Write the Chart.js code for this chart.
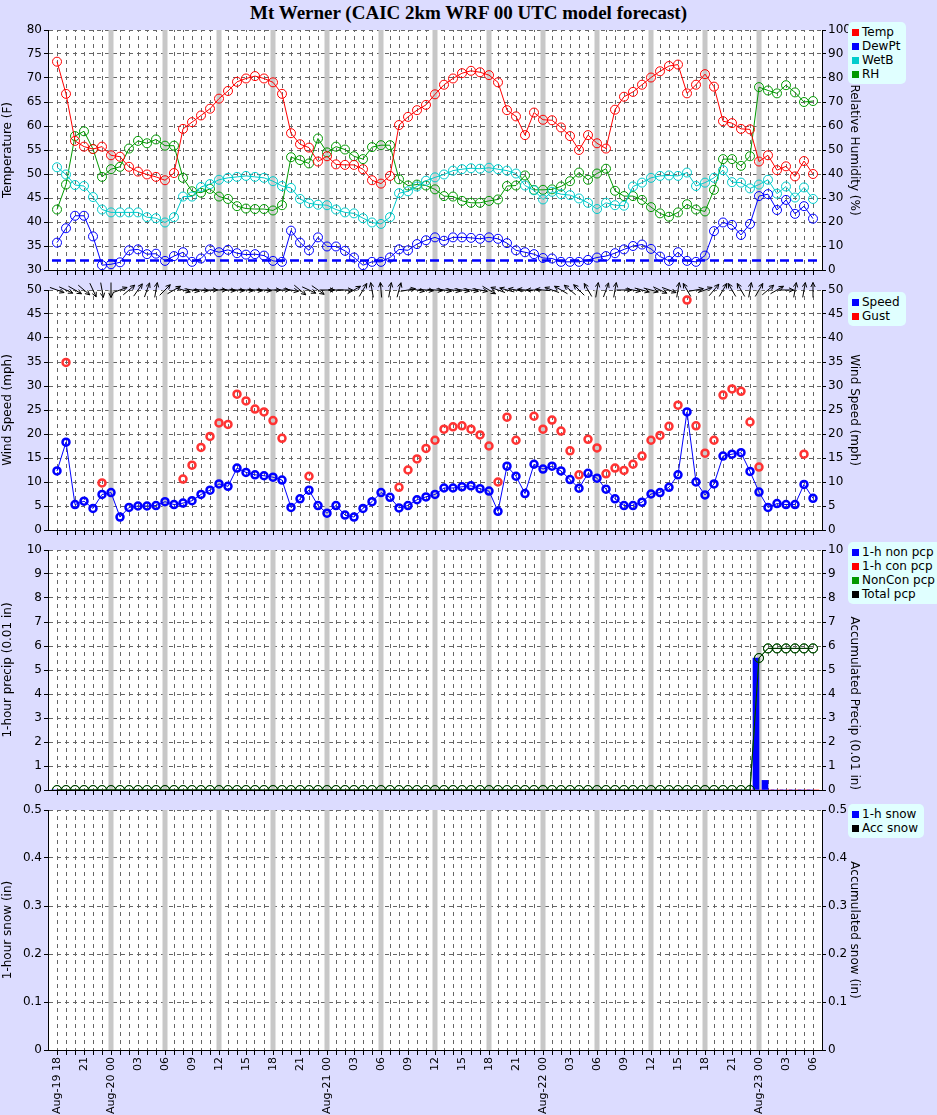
<!DOCTYPE html>
<html><head><meta charset="utf-8">
<script src="https://cdn.jsdelivr.net/npm/chart.js@4"></script>
<style>
body{margin:0;background:#dcdcff;width:937px;height:1115px;position:relative;overflow:hidden;font-family:"DejaVu Sans",sans-serif}
canvas{position:absolute;left:0}
#title{position:absolute;top:2px;left:0;width:937px;text-align:center;font:bold 19px "Liberation Serif",serif}
.leg{position:absolute;left:848px;background:#e0ffff;border-radius:5px;padding:3px 6px 3px 4px;font-size:12px;line-height:14px;white-space:nowrap}
.leg i{display:inline-block;width:7px;height:7px;margin-right:3px}
</style></head><body>
<div id="title">Mt Werner (CAIC 2km WRF 00 UTC model forecast)</div>
<canvas id="c1" width="937" height="280" style="top:0"></canvas>
<canvas id="c2" width="937" height="270" style="top:270px"></canvas>
<canvas id="c3" width="937" height="260" style="top:540px"></canvas>
<canvas id="c4" width="937" height="315" style="top:800px"></canvas>
<div class="leg" style="top:22px"><i style="background:#f00"></i>Temp<br><i style="background:#00f"></i>DewPt<br><i style="background:#0cc"></i>WetB<br><i style="background:#090"></i>RH</div>
<div class="leg" style="top:292px"><i style="background:#00f"></i>Speed<br><i style="background:#f00"></i>Gust</div>
<div class="leg" style="top:542px"><i style="background:#00f"></i>1-h non pcp<br><i style="background:#f00"></i>1-h con pcp<br><i style="background:#090"></i>NonCon pcp<br><i style="background:#000"></i>Total pcp</div>
<div class="leg" style="top:804px"><i style="background:#00f"></i>1-h snow<br><i style="background:#000"></i>Acc snow</div>
<script>
const startDay = 19, startHour = 18, nHours = 85;
const temp = [73.4,66.7,56.9,55.7,55.2,55.7,53.9,53.6,51.5,50.5,49.9,49.4,48.7,50.2,59.4,60.8,62.2,63.6,65.7,67.3,69.2,69.9,70.4,69.9,69.1,66.7,58.5,56.2,55.5,52.6,53.7,52.0,51.9,51.9,51.0,48.7,48.0,49.6,60.2,61.9,63.3,64.4,66.6,
68.6,69.9,71.0,71.5,71.2,70.6,69.1,63.3,62.0,58.1,62.8,61.3,61.2,59.7,57.9,55.0,58.1,56.4,55.3,63.4,66.1,67.1,68.6,70.1,71.4,72.5,72.8,66.8,68.6,70.8,68.2,61.0,60.6,59.4,59.3,52.6,53.9,50.8,51.6,49.5,52.7,50.0];
const dewpt = [35.7,38.7,41.3,41.3,37.0,31.0,31.2,31.6,34.1,34.3,33.3,33.4,31.9,32.9,33.7,31.7,32.4,34.3,33.7,34.2,33.5,33.2,33.3,33.0,31.9,31.7,38.2,35.7,34.1,36.8,34.9,34.9,34.0,32.6,31.0,31.7,31.7,32.6,34.3,34.1,35.4,36.2,36.8,
36.1,36.8,36.8,36.7,36.5,36.8,36.5,35.6,34.1,33.7,33.3,32.5,32.4,31.7,31.7,31.7,32.1,32.6,32.9,33.5,34.3,35.0,35.3,34.4,32.8,31.9,33.7,31.9,31.7,33.0,38.1,39.9,39.4,37.3,39.6,45.4,45.8,42.5,44.6,41.7,43.3,40.7];
const wetb = [51.4,49.9,47.7,47.5,45.2,42.6,42.0,42.0,42.0,42.0,41.0,40.8,39.9,41.0,45.3,45.3,47.3,47.9,48.8,49.2,49.4,49.6,49.4,49.2,48.5,47.5,47.1,44.8,43.9,43.6,43.5,42.6,42.0,41.8,40.8,39.9,39.6,41.0,46.0,46.4,47.4,48.6,49.3,
49.9,50.7,51.0,51.2,51.1,51.3,51.0,50.7,50.1,47.6,46.6,44.7,46.3,45.8,45.6,44.9,44.0,42.7,44.0,43.5,43.4,47.4,48.2,49.2,49.6,49.7,49.6,50.3,47.5,48.2,49.2,50.8,48.3,48.2,47.0,47.8,48.8,45.9,47.4,45.1,47.2,44.8];
const rh = [25.2,35.6,55.8,57.8,50.4,38.8,42.0,43.0,50.6,53.8,52.8,54.4,51.8,51.8,38.4,32.8,32.2,33.8,30.6,29.6,26.6,25.6,25.4,25.4,24.8,27.0,47.0,45.8,44.4,54.8,49.0,51.4,50.2,47.4,46.2,51.2,52.0,52.0,37.8,35.2,35.6,35.2,33.6,
30.8,30.6,28.8,28.0,28.0,28.8,29.4,35.0,35.2,39.4,33.4,33.4,33.6,34.8,37.0,40.6,37.6,40.2,42.2,33.0,30.8,30.8,29.2,26.2,23.6,22.2,24.0,27.4,25.2,24.4,33.4,46.2,46.2,43.4,47.4,76.2,74.8,73.6,77.0,74.0,70.0,70.4];
const freezing = 32;
const speed = [12.3,18.3,5.3,6.0,4.5,7.4,7.8,2.7,4.7,5.0,5.0,5.1,5.9,5.3,5.6,6.1,7.4,8.3,9.6,9.1,12.9,12.0,11.5,11.3,11.0,10.4,4.7,6.5,8.3,5.1,3.5,5.1,3.1,2.7,4.5,5.9,7.8,6.8,4.6,5.1,6.3,6.9,7.4,
8.75,8.75,9.0,9.2,8.6,8.1,3.9,13.3,11.2,7.6,13.7,12.7,13.3,12.3,10.5,8.7,11.8,10.8,8.5,6.5,5.1,5.1,5.8,7.5,7.8,8.9,11.5,24.6,10.0,7.3,9.6,15.4,15.8,16.1,12.2,7.9,4.7,5.5,5.3,5.3,9.5,6.6];
const gust = [null,34.9,null,null,null,9.8,null,null,null,null,null,null,null,null,10.6,13.5,17.2,19.5,22.3,22.0,28.3,26.9,25.2,24.6,22.8,19.1,null,null,11.2,null,null,null,null,null,null,null,null,null,8.9,12.5,14.8,17.0,18.7,
21.0,21.5,21.7,21.0,19.8,17.5,10.0,23.5,18.7,null,23.7,21.0,22.9,20.6,16.5,11.5,18.9,17.1,11.7,12.9,12.4,13.7,15.4,18.7,19.7,21.6,26.0,47.9,21.7,16.0,18.7,28.1,29.4,28.9,22.5,13.1,null,null,null,null,15.8,null];
const windDir = [-20,-25,-30,-40,-65,-80,-90,20,40,55,70,80,45,30,-15,-10,-5,0,0,-5,-5,-5,-5,-5,0,0,-10,-40,-25,-35,0,180,0,30,60,100,95,80,75,10,-10,-5,-5,
-10,-10,-10,-10,-10,-30,160,165,170,175,180,175,160,150,140,135,120,80,70,80,0,-10,-15,-15,-25,-20,80,120,10,20,50,60,120,120,80,60,40,30,0,80,80,90];
const precip1hNon = Array(85).fill(0); precip1hNon[78]=5.5; precip1hNon[79]=0.4;
const precip1hCon = Array(85).fill(0);
const accNonCon = [...Array(78).fill(0),5.5,5.9,5.9,5.9,5.9,5.9,5.9];
const accTotal = [...Array(78).fill(0),5.5,5.9,5.9,5.9,5.9,5.9,5.9];
const snow1h = [], accSnow = [];

const hours = Array.from({length:nHours},(_,i)=>i);
const pts = a => a.map((v,i)=>({x:i,y:v}));
function label(i){
  const h=(startHour+i)%24, d=startDay+Math.floor((startHour+i)/24);
  if(i%3) return '';
  const hs=String(h).padStart(2,'0');
  if(i===0||h===0) return 'Aug-'+d+' '+hs;
  return hs;
}
const F='"DejaVu Sans", sans-serif';
Chart.defaults.font.family=F; Chart.defaults.font.size=12; Chart.defaults.color='#000';
Chart.defaults.animation=false;
const sixLines={id:'six',beforeDatasetsDraw(c){const {ctx,chartArea:a}=c;const x=c.scales.x;ctx.save();ctx.fillStyle='#c8c8c8';
  for(let i=1;i<nHours-1;i++){if((startHour+i)%6===0){const p=x.getPixelForValue(i);ctx.fillRect(p-2.5,a.top,5,a.bottom-a.top);}}ctx.restore();}};
const whiteBg={id:'wbg',beforeDraw(c){const {ctx,chartArea:a}=c;ctx.save();ctx.fillStyle='#fff';ctx.fillRect(a.left,a.top,a.right-a.left,a.bottom-a.top);ctx.restore();}};
Chart.register(whiteBg);
function xAxis(bottom){return {type:'linear',min:-1,max:85,offset:false,
  afterFit:s=>{s.height=bottom?65:10;},
  afterBuildTicks:s=>{s.ticks=hours.map(v=>({value:v}));},
  grid:{color:'#666',lineWidth:1,tickLength:5,tickColor:'#000',drawOnChartArea:true,offset:false},
  border:{color:'#000',dash:[4,4],dashOffset:2},
  ticks:{display:bottom,autoSkip:false,maxRotation:90,minRotation:90,padding:2,callback:(v)=>label(v),font:{size:11}}}}
function yAxis(pos,min,max,step,title,grid,align){return {position:pos,min,max,
  afterFit:s=>{s.width=pos==='left'?48:40;},
  ticks:{stepSize:step,padding:2,callback:v=>String(+v.toFixed(2))},
  grid:{display:true,drawOnChartArea:grid,color:'#666',tickLength:4,tickColor:'#000'},
  border:{color:'#000',dash:[4,4]},
  title:{display:true,text:title,padding:1,align:align||'center',font:{size:12}}}}
function opts(pt,bottom,left,right){return {responsive:false,animation:false,
  layout:{padding:{top:pt,right:75,left:0,bottom:0}},
  plugins:{legend:{display:false},tooltip:{enabled:false}},
  scales:{x:xAxis(bottom),y:left,y1:right}}}
function line(data,color,axis,extra){return Object.assign({type:'line',data:pts(data),borderColor:color,backgroundColor:'rgba(0,0,0,0)',borderWidth:1,pointRadius:4.5,pointBorderWidth:1,pointBackgroundColor:'rgba(0,0,0,0)',pointBorderColor:color,yAxisID:axis,spanGaps:false},extra||{})}

// Panel 1
const o1=opts(30,false,yAxis('left',30,80,5,'Temperature (F)',true),yAxis('right',0,100,10,'Relative Humidity (%)',false));
const freezePlugin={id:'fz',afterDatasetsDraw(c){const {ctx,chartArea:a}=c;const y=c.scales.y.getPixelForValue(freezing);ctx.save();ctx.strokeStyle='#0000ff';ctx.lineWidth=2.5;ctx.setLineDash([9,5]);ctx.beginPath();ctx.moveTo(a.left+4,y);ctx.lineTo(a.right,y);ctx.stroke();ctx.restore();}};
new Chart(document.getElementById('c1'),{type:'line',data:{datasets:[
  line(temp,'#ff0000','y'),line(dewpt,'#0000ff','y'),line(wetb,'#00cccc','y'),line(rh,'#009900','y1')]},options:o1,plugins:[sixLines,freezePlugin]});

// Panel 2
const o2=opts(20,false,yAxis('left',0,50,5,'Wind Speed (mph)',true),yAxis('right',0,50,5,'Wind Speed (mph)',false));
const arrows={id:'arr',afterDatasetsDraw(c){const {ctx,chartArea:a}=c;const x=c.scales.x;ctx.save();ctx.strokeStyle='#000';ctx.lineWidth=1;
  windDir.forEach((d,i)=>{const cx=x.getPixelForValue(i),cy=a.top;const r=d*Math.PI/180,L=15;const dx=Math.cos(r),dy=-Math.sin(r);
   const x0=cx-dx*L/2,y0=cy-dy*L/2,x1=cx+dx*L/2,y1=cy+dy*L/2;ctx.beginPath();ctx.moveTo(x0,y0);ctx.lineTo(x1,y1);
   const h=5,ang=Math.atan2(dy,dx);ctx.moveTo(x1,y1);ctx.lineTo(x1-h*Math.cos(ang-0.45),y1-h*Math.sin(ang-0.45));ctx.moveTo(x1,y1);ctx.lineTo(x1-h*Math.cos(ang+0.45),y1-h*Math.sin(ang+0.45));ctx.stroke();});ctx.restore();}};
new Chart(document.getElementById('c2'),{type:'line',data:{datasets:[
  line(speed,'#0000ff','y',{pointRadius:3.5,pointBorderWidth:2.5}),
  line(gust,'#ff3333','y',{showLine:false,pointRadius:3.5,pointBorderWidth:2.5})]},options:o2,plugins:[sixLines,arrows]});

// Panel 3
const o3=opts(10,false,yAxis('left',0,10,1,'1-hour precip (0.01 in)',true),yAxis('right',0,10,1,'Accumulated Precip (0.01 in)',false,'start'));
new Chart(document.getElementById('c3'),{data:{datasets:[
  {type:'bar',data:pts(precip1hNon),backgroundColor:'#0000ff',barThickness:6,yAxisID:'y',order:3},
  {type:'bar',data:pts(precip1hCon),backgroundColor:'#ff0000',barThickness:6,yAxisID:'y',order:3},
  line(accNonCon,'#008800','y1',{order:2}),
  line(accTotal,'#003300','y1',{order:1,pointRadius:4.5})]},options:o3,plugins:[sixLines]});

// Panel 4
const o4=opts(10,true,yAxis('left',0,0.5,0.1,'1-hour snow (in)',true),yAxis('right',0,0.5,0.1,'Accumulated snow (in)',false));
new Chart(document.getElementById('c4'),{data:{datasets:[
  {type:'bar',data:pts(snow1h),backgroundColor:'#0000ff',yAxisID:'y'},
  line(accSnow,'#000000','y1')]},options:o4,plugins:[sixLines]});
</script></body></html>
